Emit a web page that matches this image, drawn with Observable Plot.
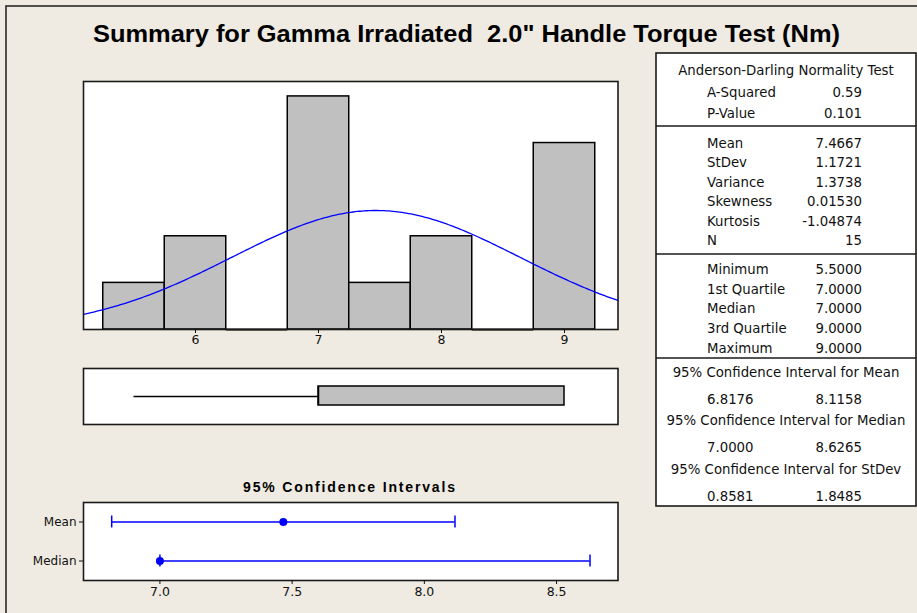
<!DOCTYPE html>
<html>
<head>
<meta charset="utf-8">
<script src="https://cdn.jsdelivr.net/npm/d3@7"></script>
<script src="https://cdn.jsdelivr.net/npm/@observablehq/plot@0.6"></script>
<style>
  html, body { margin: 0; padding: 0; background: #EFEBE2; }
  #chart { position: relative; width: 917px; height: 613px; background: #EFEBE2; overflow: hidden; }
  #chart > svg { position: absolute; left: 0; top: 0; }
</style>
</head>
<body>
<div id="chart"></div>
<script>
// ---------------- data ----------------
const titleText = "Summary for Gamma Irradiated  2.0\" Handle Torque Test (Nm)";
const ciPanelTitle = "95% Confidence Intervals";

// histogram
const binCenters = [5.5, 6.0, 6.5, 7.0, 7.5, 8.0, 8.5, 9.0];
const binCounts  = [1, 2, 0, 5, 1, 2, 0, 4];
const histTicks  = [6, 7, 8, 9];

// fitted normal (from summary statistics)
const fitMean = 7.4667;
const fitStDev = 1.1721;
const sampleN = 15;

// boxplot summary: min, Q1, median, Q3, max
const boxStats = [5.5, 7.0, 7.0, 9.0, 9.0];

// confidence intervals panel
const ciNames = ["Mean", "Median"];
const ciEstimates = [7.4667, 7.0];
const ciLower = [6.8176, 7.0];
const ciUpper = [8.1158, 8.6265];
const ciTicks = [7.0, 7.5, 8.0, 8.5];

// table
const adHeader = "Anderson-Darling Normality Test";
const adLabels = ["A-Squared", "P-Value"];
const adValues = ["0.59", "0.101"];
const descLabels = ["Mean", "StDev", "Variance", "Skewness", "Kurtosis", "N"];
const descValues = ["7.4667", "1.1721", "1.3738", "0.01530", "-1.04874", "15"];
const quartLabels = ["Minimum", "1st Quartile", "Median", "3rd Quartile", "Maximum"];
const quartValues = ["5.5000", "7.0000", "7.0000", "9.0000", "9.0000"];
const ciTableTitles = ["95% Confidence Interval for Mean", "95% Confidence Interval for Median", "95% Confidence Interval for StDev"];
const ciTableLow  = ["6.8176", "7.0000", "0.8581"];
const ciTableHigh = ["8.1158", "8.6265", "1.8485"];

// ---------------- layout ----------------
const W = 917, H = 613;
const FONT = "DejaVu Sans, Verdana, sans-serif";
const chart = d3.select("#chart");

// background overlay (frame, title, table)
const svg = chart.append("svg").attr("width", W).attr("height", H).attr("viewBox", `0 0 ${W} ${H}`);
svg.append("rect").attr("x", 6).attr("y", 6).attr("width", 1000).attr("height", 1000)
  .attr("fill", "none").attr("stroke", "#2a2a2a").attr("stroke-width", 1.6);

svg.append("text").attr("x", 466.5).attr("y", 42).attr("text-anchor", "middle")
  .attr("xml:space", "preserve").style("white-space", "pre")
  .attr("font-family", "Liberation Sans, Arial, sans-serif").attr("font-weight", "bold")
  .attr("font-size", 23).attr("textLength", 747).attr("lengthAdjust", "spacingAndGlyphs")
  .attr("fill", "#000").text(titleText);

svg.append("text").attr("x", 349).attr("y", 492).attr("text-anchor", "middle")
  .attr("font-family", "Liberation Sans, Arial, sans-serif").attr("font-weight", "bold")
  .attr("font-size", 14).attr("textLength", 212).attr("lengthAdjust", "spacing")
  .attr("fill", "#000").text(ciPanelTitle);

// table
const tX0 = 656, tX1 = 916, tY0 = 53, tY1 = 506;
const tCenter = (tX0 + tX1) / 2, labX = 707, valX = 862;
svg.append("rect").attr("x", tX0).attr("y", tY0).attr("width", tX1 - tX0).attr("height", tY1 - tY0)
  .attr("fill", "#fff").attr("stroke", "#1a1a1a").attr("stroke-width", 1.6);
[126, 254, 358].forEach(y => svg.append("line").attr("x1", tX0).attr("x2", tX1).attr("y1", y).attr("y2", y)
  .attr("stroke", "#1a1a1a").attr("stroke-width", 1.6));

const tg = svg.append("g").attr("font-family", FONT).attr("font-size", 13.3).attr("fill", "#111");
function txt(x, yc, s, anchor) {
  tg.append("text").attr("x", x).attr("y", yc + 4.8).attr("text-anchor", anchor).text(s);
}
txt(tCenter, 70, adHeader, "middle");
adLabels.forEach((l, i) => { txt(labX, 92 + i * 21, l, "start"); txt(valX, 92 + i * 21, adValues[i], "end"); });
descLabels.forEach((l, i) => { txt(labX, 143 + i * 19.5, l, "start"); txt(valX, 143 + i * 19.5, descValues[i], "end"); });
quartLabels.forEach((l, i) => { txt(labX, 269 + i * 19.8, l, "start"); txt(valX, 269 + i * 19.8, quartValues[i], "end"); });
ciTableTitles.forEach((t, i) => {
  const y0 = 372 + i * 48.5;
  txt(tCenter, y0, t, "middle");
  txt(labX, y0 + 27, ciTableLow[i], "start");
  txt(valX, y0 + 27, ciTableHigh[i], "end");
});

// ---------------- plots ----------------
const plotStyle = { background: "transparent", fontFamily: FONT, fontSize: "12px", color: "#111", overflow: "visible" };
const histDomain = [5.0894, 9.435];
const panelL = 83, panelR = W - 617.5;

// histogram
const binWidth = binCenters[1] - binCenters[0];
const bins = binCenters.map((c, i) => ({ c, count: binCounts[i] }));
const npts = 240;
const curve = d3.range(npts + 1).map(k => {
  const x = histDomain[0] + (histDomain[1] - histDomain[0]) * k / npts;
  const z = (x - fitMean) / fitStDev;
  return { x, y: sampleN * binWidth * Math.exp(-0.5 * z * z) / (fitStDev * Math.sqrt(2 * Math.PI)) };
});

const hist = Plot.plot({
  width: W, height: 360,
  marginLeft: panelL, marginRight: panelR, marginTop: 81, marginBottom: 31,
  style: plotStyle,
  x: { domain: histDomain },
  y: { domain: [0, 5.32], axis: null },
  marks: [
    Plot.frame({ fill: "white" }),
    Plot.rect(bins.filter(d => d.count > 0), {
      x1: d => d.c - binWidth / 2, x2: d => d.c + binWidth / 2, y1: 0, y2: "count",
      fill: "#C0C0C0", stroke: "#000", strokeWidth: 1.5
    }),
    Plot.ruleY(bins.filter(d => d.count === 0), {
      y: 0, x1: d => d.c - binWidth / 2, x2: d => d.c + binWidth / 2, stroke: "#000", strokeWidth: 2
    }),
    Plot.line(curve, { x: "x", y: "y", stroke: "#0000FF", strokeWidth: 1.3 }),
    Plot.frame({ stroke: "#1a1a1a", strokeWidth: 1.6 }),
    Plot.axisX({ ticks: histTicks, tickSize: 4, tickPadding: 2, fontSize: 12.5, label: null, tickFormat: d => String(d) })
  ]
});
chart.node().appendChild(hist);

// boxplot
const boxRow = [{ key: "box", min: boxStats[0], q1: boxStats[1], med: boxStats[2], q3: boxStats[3], max: boxStats[4] }];
const box = Plot.plot({
  width: W, height: 440,
  marginLeft: panelL, marginRight: panelR, marginTop: 368, marginBottom: 16,
  style: plotStyle,
  x: { domain: histDomain, axis: null },
  y: { domain: ["box"], axis: null, padding: 0 },
  marks: [
    Plot.frame({ fill: "white" }),
    Plot.ruleY(boxRow, { y: "key", x1: "min", x2: "q1", stroke: "#000", strokeWidth: 1.5 }),
    Plot.ruleY(boxRow, { y: "key", x1: "q3", x2: "max", stroke: "#000", strokeWidth: 1.5 }),
    Plot.barX(boxRow, { y: "key", x1: "q1", x2: "q3", insetTop: 18, insetBottom: 19, fill: "#C0C0C0", stroke: "#000", strokeWidth: 1.5 }),
    Plot.tickX(boxRow, { y: "key", x: "med", insetTop: 18, insetBottom: 19, stroke: "#000", strokeWidth: 1.5 }),
    Plot.frame({ stroke: "#1a1a1a", strokeWidth: 1.6 })
  ]
});
chart.node().appendChild(box);

// confidence intervals
const ciRows = ciNames.map((name, i) => ({ name, est: ciEstimates[i], lo: ciLower[i], hi: ciUpper[i] }));
const ci = Plot.plot({
  width: W, height: H,
  marginLeft: panelL, marginRight: panelR, marginTop: 502, marginBottom: 33,
  style: plotStyle,
  x: { domain: [6.711, 8.7323] },
  y: { domain: ciNames, padding: 0 },
  marks: [
    Plot.frame({ fill: "white" }),
    Plot.ruleY(ciRows, { y: "name", x1: "lo", x2: "hi", stroke: "#0000FF", strokeWidth: 1.3 }),
    Plot.tickX(ciRows, { y: "name", x: "lo", insetTop: 13.5, insetBottom: 13.5, stroke: "#0000FF", strokeWidth: 1.5 }),
    Plot.tickX(ciRows, { y: "name", x: "hi", insetTop: 13.5, insetBottom: 13.5, stroke: "#0000FF", strokeWidth: 1.5 }),
    Plot.dot(ciRows, { y: "name", x: "est", r: 4, fill: "#0000FF", stroke: "none" }),
    Plot.frame({ stroke: "#1a1a1a", strokeWidth: 1.6 }),
    Plot.axisX({ ticks: ciTicks, tickSize: 4, tickPadding: 3, fontSize: 12.5, label: null, tickFormat: d3.format(".1f") }),
    Plot.axisY({ tickSize: 4, tickPadding: 3, fontSize: 12, label: null })
  ]
});
chart.node().appendChild(ci);
</script>
</body>
</html>
